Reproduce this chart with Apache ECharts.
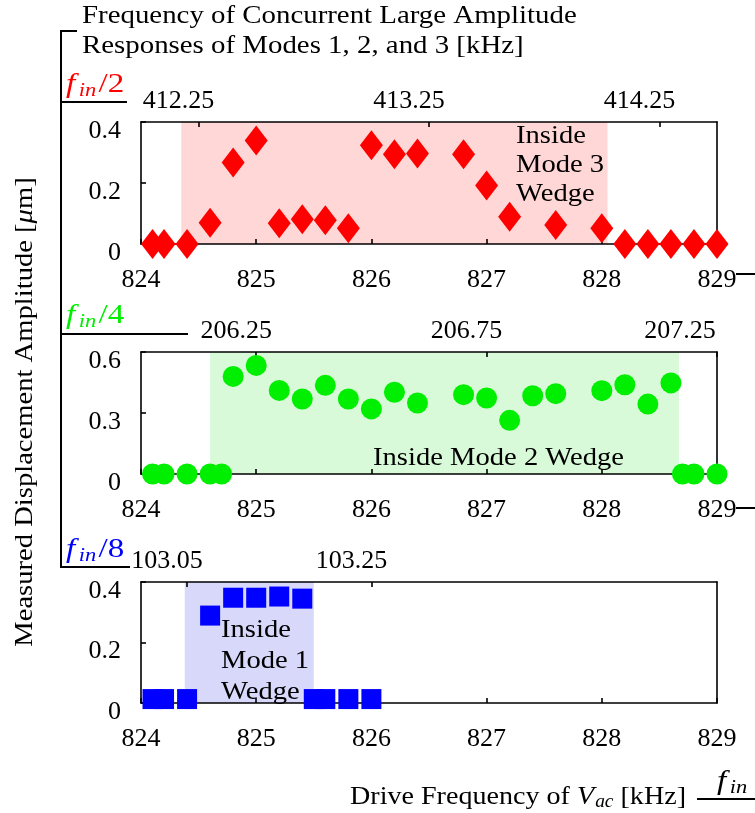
<!DOCTYPE html>
<html>
<head>
<meta charset="utf-8">
<script src="https://cdn.jsdelivr.net/npm/echarts@6/dist/echarts.min.js"></script>
<style>
  html, body { margin: 0; padding: 0; background: #fff; }
  #chart { width: 755px; height: 813px; }
</style>
</head>
<body>
<div id="chart"></div>
<script>
// Drive frequency f_in [kHz] and measured amplitude [um] for each subharmonic response
const freqHalf = [824.1, 824.2, 824.4, 824.6, 824.8, 825.0, 825.2, 825.4, 825.6, 825.8, 826.0, 826.2,
                  826.4, 826.8, 827.0, 827.2, 827.6, 828.0, 828.2, 828.4, 828.6, 828.8, 829.0];
const ampHalf  = [0, 0, 0, 0.070, 0.267, 0.339, 0.068, 0.081, 0.078, 0.052, 0.324, 0.294,
                  0.297, 0.294, 0.192, 0.089, 0.062, 0.052, 0, 0, 0, 0, 0];

const freqQuarter = [824.1, 824.2, 824.4, 824.6, 824.7, 824.8, 825.0, 825.2, 825.4, 825.6, 825.8, 826.0, 826.2,
                     826.4, 826.8, 827.0, 827.2, 827.4, 827.6, 828.0, 828.2, 828.4, 828.6, 828.7, 828.8, 829.0];
const ampQuarter  = [0, 0, 0, 0, 0, 0.480, 0.534, 0.411, 0.369, 0.436, 0.369, 0.320, 0.402,
                     0.349, 0.390, 0.374, 0.264, 0.385, 0.395, 0.410, 0.439, 0.344, 0.448, 0, 0, 0];

const freqEighth = [824.1, 824.2, 824.4, 824.6, 824.8, 825.0, 825.2, 825.4, 825.5, 825.6, 825.8, 826.0];
const ampEighth  = [0.013, 0.013, 0.013, 0.289, 0.348, 0.348, 0.352, 0.345, 0.013, 0.013, 0.013, 0.013];

// Drive-frequency ranges lying inside each mode's wedge [kHz]
const wedgeMode3 = [824.35, 828.05];
const wedgeMode2 = [824.6, 828.67];
const wedgeMode1 = [824.38, 825.5];

// Response-frequency tick labels (f_in / n) shown along the top of each panel [kHz]
const ticksHalf    = [412.25, 413.25, 414.25];
const ticksQuarter = [206.25, 206.75, 207.25];
const ticksEighth  = [103.05, 103.25];

// Drive-frequency axis and amplitude axes
const driveMin = 824, driveMax = 829, driveStep = 1;
const ampMaxHalf = 0.4, ampStepHalf = 0.2;
const ampMaxQuarter = 0.6, ampStepQuarter = 0.3;
const ampMaxEighth = 0.4, ampStepEighth = 0.2;

const SERIF = '"Liberation Serif", "DejaVu Serif", serif';
const FS = 26;
const INK = '#000';
const RED = '#ff0000', GREEN = '#00ee00', BLUE = '#0000ff';

const panels = [
  { div: 2, freq: freqHalf, amp: ampHalf, wedge: wedgeMode3, ticks: ticksHalf, ymax: ampMaxHalf, ystep: ampStepHalf,
    color: RED, shade: '#ffd7d7', symbol: 'diamond', size: [23, 30],
    grid: { left: 141, top: 122, width: 576, height: 122 } },
  { div: 4, freq: freqQuarter, amp: ampQuarter, wedge: wedgeMode2, ticks: ticksQuarter, ymax: ampMaxQuarter, ystep: ampStepQuarter,
    color: GREEN, shade: '#d8fad8', symbol: 'circle', size: 21,
    grid: { left: 141, top: 352, width: 576, height: 122 } },
  { div: 8, freq: freqEighth, amp: ampEighth, wedge: wedgeMode1, ticks: ticksEighth, ymax: ampMaxEighth, ystep: ampStepEighth,
    color: BLUE, shade: '#d8d8fa', symbol: 'rect', size: 20,
    grid: { left: 141, top: 582, width: 576, height: 121 } }
];

const lineStyle = { color: INK, width: 1.6 };
const grids = [], xAxes = [], yAxes = [], series = [];

panels.forEach((p, i) => {
  grids.push(Object.assign({ containLabel: false }, p.grid));
  const tickDrive = p.ticks.map(t => +(t * p.div).toFixed(4));

  // drive frequency along the bottom
  xAxes.push({
    type: 'value', gridIndex: i, position: 'bottom', min: driveMin, max: driveMax, interval: driveStep, z: 2,
    axisLine: { show: true, onZero: false, lineStyle },
    axisTick: { show: true, inside: true, length: 5, lineStyle },
    axisLabel: { margin: 23, color: INK, fontFamily: SERIF, fontSize: FS, formatter: v => String(v) },
    splitLine: { show: false }
  });
  // response frequency f_in / n along the top
  xAxes.push({
    type: 'value', gridIndex: i, position: 'top', min: driveMin, max: driveMax, z: 2,
    axisLine: { show: true, onZero: false, lineStyle },
    axisTick: { show: true, inside: true, length: 5, lineStyle, customValues: tickDrive },
    axisLabel: {
      show: true, customValues: tickDrive, margin: 8, color: INK, fontFamily: SERIF, fontSize: FS,
      formatter: v => {
        const s = (v / p.div).toFixed(2);
        return v >= driveMax - 1e-6 ? '{e|' + s + '}' : '{m|' + s + '}';
      },
      rich: {
        m: { fontFamily: SERIF, fontSize: FS, color: INK, padding: [0, 40, 0, 0] },
        e: { fontFamily: SERIF, fontSize: FS, color: INK, padding: [0, 74, 0, 0] }
      }
    },
    splitLine: { show: false }
  });
  yAxes.push({
    type: 'value', gridIndex: i, position: 'left', min: 0, max: p.ymax, interval: p.ystep, z: 2,
    axisLine: { show: true, onZero: false, lineStyle },
    axisTick: { show: true, inside: true, length: 5, lineStyle },
    axisLabel: {
      margin: 20, color: INK, fontFamily: SERIF, fontSize: FS,
      formatter: v => '{a|' + String(+v.toFixed(2)) + '}',
      rich: { a: { fontFamily: SERIF, fontSize: FS, color: INK, padding: [18, 0, 0, 0] } }
    },
    splitLine: { show: false }
  });
  yAxes.push({
    type: 'value', gridIndex: i, position: 'right', min: 0, max: p.ymax, z: 2,
    axisLine: { show: true, onZero: false, lineStyle },
    axisTick: { show: false }, axisLabel: { show: false }, splitLine: { show: false }
  });

  // shaded wedge band
  series.push({
    type: 'scatter', xAxisIndex: 2 * i, yAxisIndex: 2 * i, data: [], z: 1, silent: true,
    markArea: {
      silent: true,
      itemStyle: { color: p.shade, borderWidth: 0 },
      data: [[{ xAxis: p.wedge[0], yAxis: 0 }, { xAxis: p.wedge[1], yAxis: p.ymax }]]
    }
  });
  // measured amplitudes
  series.push({
    type: 'scatter', xAxisIndex: 2 * i, yAxisIndex: 2 * i, z: 3, clip: false,
    symbol: p.symbol, symbolSize: p.size,
    itemStyle: { color: p.color, opacity: 1 },
    data: p.freq.map((f, k) => [f, p.amp[k]])
  });
});

// text measuring for composed math labels (base + subscript)
const measureCtx = document.createElement('canvas').getContext('2d');
function textWidth(text, size, italic) {
  measureCtx.font = (italic ? 'italic ' : '') + size + 'px ' + SERIF;
  return measureCtx.measureText(text).width;
}

// pieces: [{t, size, italic, dy, gap}] laid out left to right from (x, y)
function mathText(x, y, pieces, color, stretch) {
  let cx = 0;
  const children = pieces.map(pc => {
    const el = {
      type: 'text', x: cx + (pc.pre || 0), y: pc.dy || 0,
      style: {
        text: pc.t, fill: color, fontFamily: SERIF, fontSize: pc.size,
        fontStyle: pc.italic ? 'italic' : 'normal', align: 'left', verticalAlign: 'middle'
      }
    };
    cx += (pc.pre || 0) + textWidth(pc.t, pc.size, pc.italic) + (pc.post || 0);
    return el;
  });
  return { type: 'group', x, y, scaleX: stretch || 1, z: 10, children };
}

const fin = (suffix) => {
  const out = [
    { t: 'f', size: 28, italic: true, post: 3 },
    { t: 'in', size: 19, italic: true, dy: 6, post: 2 }
  ];
  if (suffix) out.push({ t: suffix, size: 28, italic: false });
  return out;
};

const rule = (x1, y1, x2, y2) => ({
  type: 'line', z: 10, shape: { x1, y1, x2, y2 }, style: { stroke: INK, lineWidth: 2 }
});

const textBase = { fontFamily: SERIF, fontSize: FS, fill: INK };
const STRETCH = 1.1;

const graphic = [
  // bracket grouping the three response frequencies
  { type: 'polyline', z: 10, shape: { points: [[77, 31], [61, 31], [61, 567], [130, 567]] },
    style: { stroke: INK, lineWidth: 2, fill: 'none' } },
  rule(61, 102, 127, 102),
  rule(61, 334, 188, 334),
  rule(736, 274, 755, 274),
  rule(736, 508, 755, 508),
  rule(697, 799, 755, 799),

  { type: 'text', x: 82, y: 16, scaleX: 1.11, z: 10,
    style: Object.assign({ text: 'Frequency of Concurrent Large Amplitude', verticalAlign: 'middle' }, textBase) },
  { type: 'text', x: 82, y: 46, scaleX: 1.11, z: 10,
    style: Object.assign({ text: 'Responses of Modes 1, 2, and 3 [kHz]', verticalAlign: 'middle' }, textBase) },

  mathText(66, 85, fin('/2'), RED, 1.18),
  mathText(66, 316, fin('/4'), GREEN, 1.18),
  mathText(66, 550, fin('/8'), BLUE, 1.18),
  mathText(717, 782, fin(''), INK, 1.18),

  { type: 'text', x: 516, y: 122, scaleX: STRETCH, z: 10,
    style: Object.assign({ text: 'Inside\nMode 3\nWedge', verticalAlign: 'top', lineHeight: 29 }, textBase) },
  { type: 'text', x: 373, y: 458, scaleX: STRETCH, z: 10,
    style: Object.assign({ text: 'Inside Mode 2 Wedge', verticalAlign: 'middle' }, textBase) },
  { type: 'text', x: 221, y: 615, scaleX: STRETCH, z: 10,
    style: Object.assign({ text: 'Inside\nMode 1\nWedge', verticalAlign: 'top', lineHeight: 31 }, textBase) },

  // axis titles
  { type: 'text', x: 25, y: 412, rotation: Math.PI / 2, scaleX: STRETCH, z: 10,
    style: {
      text: '{t|Measured Displacement Amplitude [}{m|μ}{t|m]}', align: 'center', verticalAlign: 'middle',
      rich: {
        t: { fontFamily: SERIF, fontSize: FS, fill: INK },
        m: { fontFamily: SERIF, fontSize: FS, fill: INK, fontStyle: 'italic' }
      }
    } },
  mathText(350, 797, [
    { t: 'Drive Frequency of ', size: FS },
    { t: 'V', size: FS, italic: true, post: 1 },
    { t: 'ac', size: 18, italic: true, dy: 5, post: 0 },
    { t: ' [kHz]', size: FS }
  ], INK, 1.08)
];

const chart = echarts.init(document.getElementById('chart'), null, { renderer: 'canvas' });
chart.setOption({
  animation: false,
  backgroundColor: '#fff',
  grid: grids,
  xAxis: xAxes,
  yAxis: yAxes,
  series,
  graphic
});
</script>
</body>
</html>
